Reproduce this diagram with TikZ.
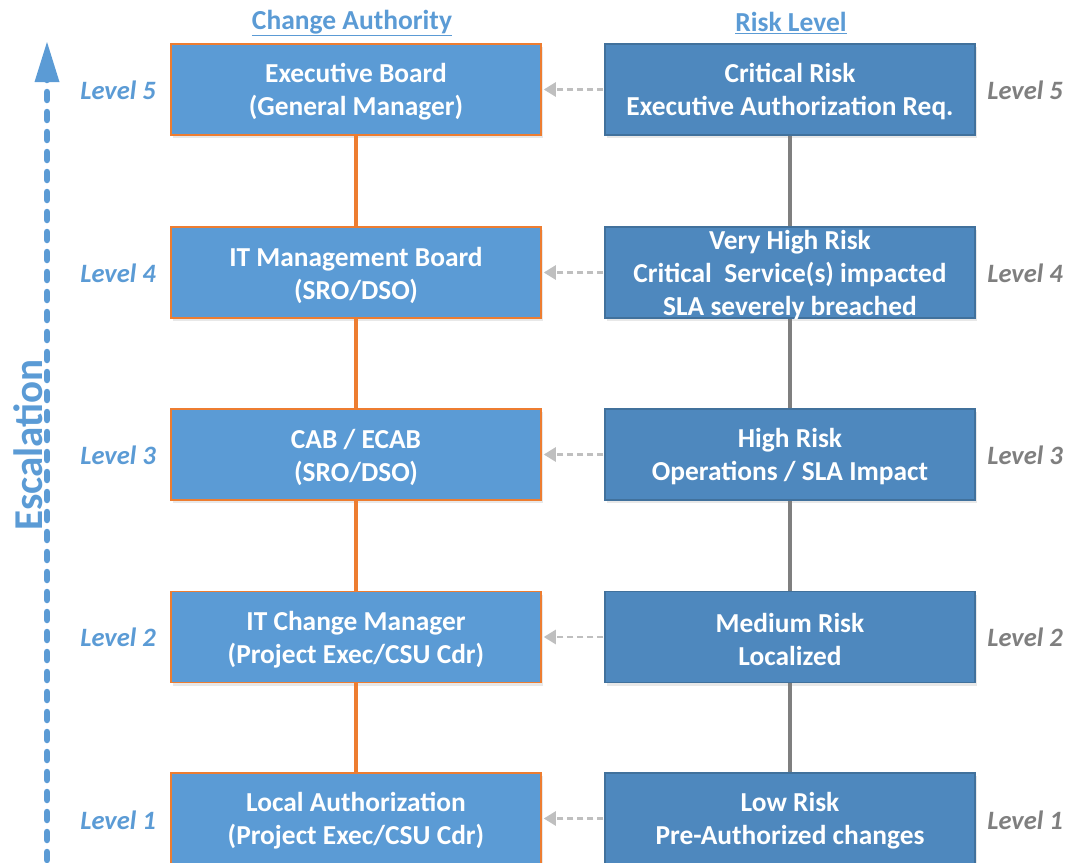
\documentclass[tikz,border=0pt]{standalone}
\usepackage{fontspec}
\setmainfont{Carlito}
\usetikzlibrary{arrows.meta,shadows}
\definecolor{authfill}{HTML}{5B9BD5}
\definecolor{authline}{HTML}{ED7D31}
\definecolor{riskfill}{HTML}{4E88BE}
\definecolor{riskline}{HTML}{41719C}
\definecolor{linkgrey}{HTML}{7F7F7F}
\definecolor{dashgrey}{HTML}{BFBFBF}
\tikzset{
  box/.style={minimum width=370pt, minimum height=91pt, inner sep=0pt,
    drop shadow={shadow xshift=2pt, shadow yshift=-3pt, opacity=0.18}},
  boxtext/.style={text=white, align=center, inner sep=0pt, yshift=-2.5pt,
    font=\fontsize{27.4}{33}\selectfont\bfseries},
  authbox/.style={box, fill=authfill, draw=authline, line width=1.5pt,
    label={[boxtext]center:#1}},
  riskbox/.style={box, fill=riskfill, draw=riskline, line width=1.5pt,
    label={[boxtext]center:#1}},
  lvlL/.style={text=authfill, font=\fontsize{26.5}{30}\selectfont\bfseries\itshape},
  lvlR/.style={text=linkgrey, font=\fontsize{26.5}{30}\selectfont\bfseries\itshape},
  header/.style={text=authfill, font=\fontsize{27.5}{31}\selectfont\bfseries},
  authlink/.style={draw=authline, line width=4pt},
  risklink/.style={draw=linkgrey, line width=4pt},
  maparrow/.style={draw=dashgrey, line width=2.5pt, dash pattern=on 6pt off 4pt,
    -{Triangle[length=12pt,width=14pt]}, shorten >=2pt, shorten <=1pt},
}
\begin{document}
\begin{tikzpicture}[x=1pt,y=-1pt]
\useasboundingbox (0,0) rectangle (1068,862);

% column headers
\node[header] (hA) at (352,23) {\underline{Change Authority}};
\node[header] (hR) at (791,23) {\underline{Risk Level}};

% change authority column
\node[authbox={Executive Board\\(General Manager)}] (a5) at (356,89.5) {};
\node[authbox={IT Management Board\\(SRO/DSO)}] (a4) at (356,272.5) {};
\node[authbox={CAB / ECAB\\(SRO/DSO)}] (a3) at (356,454.5) {};
\node[authbox={IT Change Manager\\(Project Exec/CSU Cdr)}] (a2) at (356,637) {};
\node[authbox={Local Authorization\\(Project Exec/CSU Cdr)}] (a1) at (356,818.5) {};

% risk level column
\node[riskbox={Critical Risk\\Executive Authorization Req.}] (r5) at (790,89.5) {};
\node[riskbox={Very High Risk\\Critical\ \ Service(s) impacted\\SLA severely breached}] (r4) at (790,272.5) {};
\node[riskbox={High Risk\\Operations / SLA Impact}] (r3) at (790,454.5) {};
\node[riskbox={Medium Risk\\Localized}] (r2) at (790,637) {};
\node[riskbox={Low Risk\\Pre-Authorized changes}] (r1) at (790,818.5) {};

% vertical links between levels
\path[authlink] (a5.south) -- (a4.north);
\path[authlink] (a4.south) -- (a3.north);
\path[authlink] (a3.south) -- (a2.north);
\path[authlink] (a2.south) -- (a1.north);
\path[risklink] (r5.south) -- (r4.north);
\path[risklink] (r4.south) -- (r3.north);
\path[risklink] (r3.south) -- (r2.north);
\path[risklink] (r2.south) -- (r1.north);

% risk to authority mapping
\foreach \i in {1,...,5}{
  \path[maparrow] (r\i.west) -- (a\i.east);
}

% level labels
\foreach \i/\y in {5/90,4/273,3/455,2/637,1/820}{
  \node[lvlL] (lL\i) at (118,\y) {Level \i};
  \node[lvlR] (lR\i) at (1025,\y) {Level \i};
}

% escalation axis
\coordinate (eBot) at (47,880);
\coordinate (eTop) at (47,76);
\coordinate (eTip) at (47,42);
\draw[authfill, line width=6.5pt, line cap=round, dash pattern=on 8pt off 12pt] (eBot) -- (eTop);
\fill[authfill] (eTip) -- (34.5,82) -- (59.5,82) -- cycle;
\node[rotate=90, text=authfill, font=\fontsize{41}{44}\selectfont\bfseries] (esc) at (28,445) {Escalation};
\end{tikzpicture}
\end{document}
